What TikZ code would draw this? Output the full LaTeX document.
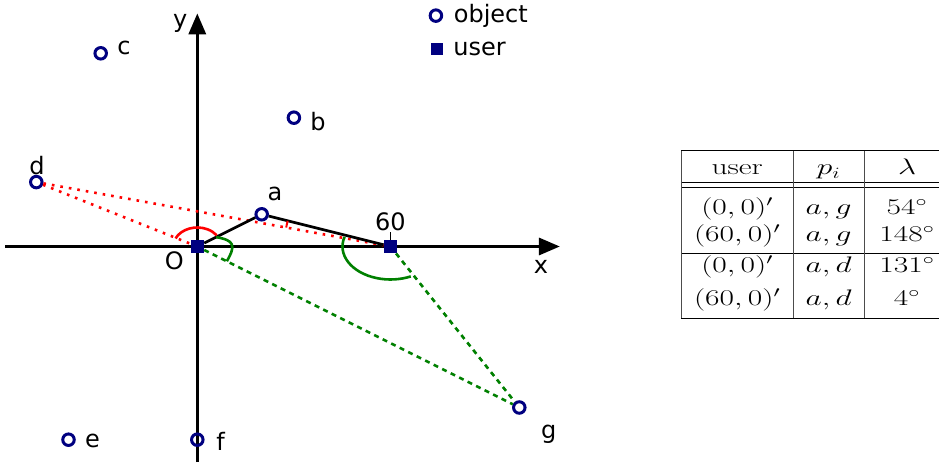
\RequirePackage{fix-cm}
\documentclass[tikz,border=0pt]{standalone}
\usepackage{amsmath}
\usepackage{fontspec}
\usetikzlibrary{arrows.meta,calc,positioning}
\newfontfamily\labelfont{DejaVu Sans}
\definecolor{navyblue}{RGB}{0,0,128}
\definecolor{darkgreen}{RGB}{0,128,0}
\newcommand{\tcell}[1]{\scalebox{1.4}[1]{#1}}

\begin{document}
\begin{tikzpicture}[x=3.22pt, y=3.22pt,
    obj/.style={circle, draw=navyblue, line width=3pt, minimum size=11.5pt, inner sep=0pt},
    usr/.style={rectangle, fill=navyblue, minimum size=13.5pt, inner sep=0pt},
    lbl/.style={font=\labelfont\fontsize{24}{28}\selectfont, inner sep=0pt},
    axis/.style={line width=3.3pt, -{Triangle[length=21pt,width=17pt]}},
    redline/.style={red, line width=2.6pt, dash pattern=on 2.6pt off 6pt},
    greenline/.style={darkgreen, line width=2.6pt, dash pattern=on 5pt off 4.5pt},
    tab/.style={font=\fontsize{22.5}{27}\selectfont, inner sep=0pt, text height=16pt, text depth=5.5pt}]
    \useasboundingbox (-197.3pt,-218.5pt) rectangle (741.7pt,246.5pt);
    % Define points
    \coordinate (xl) at (-59.7, 0);
    \coordinate (xr) at (112.6, 0);
    \coordinate (yb) at (0, -67);
    \coordinate (yt) at (0, 72.4);
    % Draw axes
    \draw[axis] (xl) -- (xr);
    \draw[axis] (yb) -- (yt);
    \node[lbl] (lx) at ($(xr)+(-19pt,-20pt)$) {x};
    \node[lbl] (ly) at ($(yt)+(-17pt,-10pt)$) {y};
    % Mark users
    \node[usr] (O) at (0, 0) {};
    \node[usr] (U) at (60, 0) {};
    \node[lbl] (lO) at ($(O)+(-23pt,-14.5pt)$) {O};
    \draw[line width=0.9pt] (U.north) -- ++(0,7.5pt) coordinate (t60);
    \node[lbl, above=1.5pt of t60] (l60) {60};
    % Mark objects
    \node[obj] (a) at (20, 10) {};
    \node[obj] (b) at (30, 40) {};
    \node[obj] (c) at (-30, 60) {};
    \node[obj] (d) at (-50, 20) {};
    \node[obj] (e) at (-40, -60) {};
    \node[obj] (f) at (0, -60) {};
    \node[obj] (g) at (100, -50) {};
    \node[lbl] (la) at ($(a)+(13.3pt,20.8pt)$) {a};
    \node[lbl] (lb) at ($(b)+(24pt,-3.4pt)$) {b};
    \node[lbl] (lc) at ($(c)+(23.3pt,5pt)$) {c};
    \node[lbl] (ld) at ($(d)+(0.6pt,17pt)$) {d};
    \node[lbl] (le) at ($(e)+(24pt,-1pt)$) {e};
    \node[lbl] (lf) at ($(f)+(23.3pt,-1.7pt)$) {f};
    \node[lbl] (lg) at ($(g)+(29.4pt,-26.6pt)$) {g};
    % Connect users and objects
    \draw[redline] (d) -- (O);
    \draw[redline] (d) -- (U);
    \draw[greenline] (O) -- (g);
    \draw[greenline] (U) -- (g);
    \draw[line width=2.7pt] (O) -- (a);
    \draw[line width=2.7pt] (a) -- (U);
    % Angles
    \draw[red, line width=2.6pt] ([shift={(155:24pt and 19pt)}]O.center)
        arc[start angle=155, end angle=36, x radius=24pt, y radius=19pt];
    \draw[darkgreen, line width=2.6pt] ($(O)!21pt!(a)$)
        to[out=-10, in=60, looseness=1.8] ($(O)!33pt!(g)$);
    \draw[darkgreen, line width=2.6pt] ([shift={(163:48pt and 33pt)}]U.center)
        arc[start angle=163, end angle=295, x radius=48pt, y radius=33pt];
    \draw[red, line width=2pt] ([shift={(166:106pt)}]U.center)
        arc[start angle=166, end angle=169.7, radius=106pt];
    % Legend
    \node[obj] (lo) at (74.1, 71.7) {};
    \node[lbl, right=10.5pt of lo] (lobj) {object};
    \node[usr, minimum size=12pt] (lu) at (74.3, 61.2) {};
    \node[lbl, right=10.5pt of lu] (lusr) {user};
    % Table
    \begin{scope}[shift={(483.7pt,95.8pt)}, x=1pt, y=-1pt]
      \draw[line width=1pt] (0,0) -- (258,0);
      \draw[line width=1pt] (0,32) -- (258,32);
      \draw[line width=1pt] (0,37) -- (258,37);
      \draw[line width=1pt] (0,102.6) -- (258,102.6);
      \draw[line width=1pt] (0,167.6) -- (258,167.6);
      \draw[line width=1pt, black!70] (0,0) -- (0,167.6);
      \draw[line width=1pt, black!70] (112.3,0) -- (112.3,167.6);
      \draw[line width=1pt, black!70] (183.3,0) -- (183.3,167.6);
      \node[tab] (h1) at (56.2,19) {\tcell{user}};
      \node[tab] (h2) at (147.6,19) {\tcell{$p_i$}};
      \node[tab] (h3) at (226,19) {\tcell{$\lambda$}};
      \node[tab] (r11) at (56.2,58.3) {\tcell{$(0,0)'$}};
      \node[tab] (r12) at (147.6,58.3) {\tcell{$a,g$}};
      \node[tab] (r13) at (226,58.3) {\tcell{$54^\circ$}};
      \node[tab] (r21) at (56.2,85.3) {\tcell{$(60,0)'$}};
      \node[tab] (r22) at (147.6,85.3) {\tcell{$a,g$}};
      \node[tab] (r23) at (226,85.3) {\tcell{$148^\circ$}};
      \node[tab] (r31) at (56.2,116.8) {\tcell{$(0,0)'$}};
      \node[tab] (r32) at (147.6,116.8) {\tcell{$a,d$}};
      \node[tab] (r33) at (226,116.8) {\tcell{$131^\circ$}};
      \node[tab] (r41) at (56.2,149.3) {\tcell{$(60,0)'$}};
      \node[tab] (r42) at (147.6,149.3) {\tcell{$a,d$}};
      \node[tab] (r43) at (226,149.3) {\tcell{$4^\circ$}};
    \end{scope}
\end{tikzpicture}
\end{document}
